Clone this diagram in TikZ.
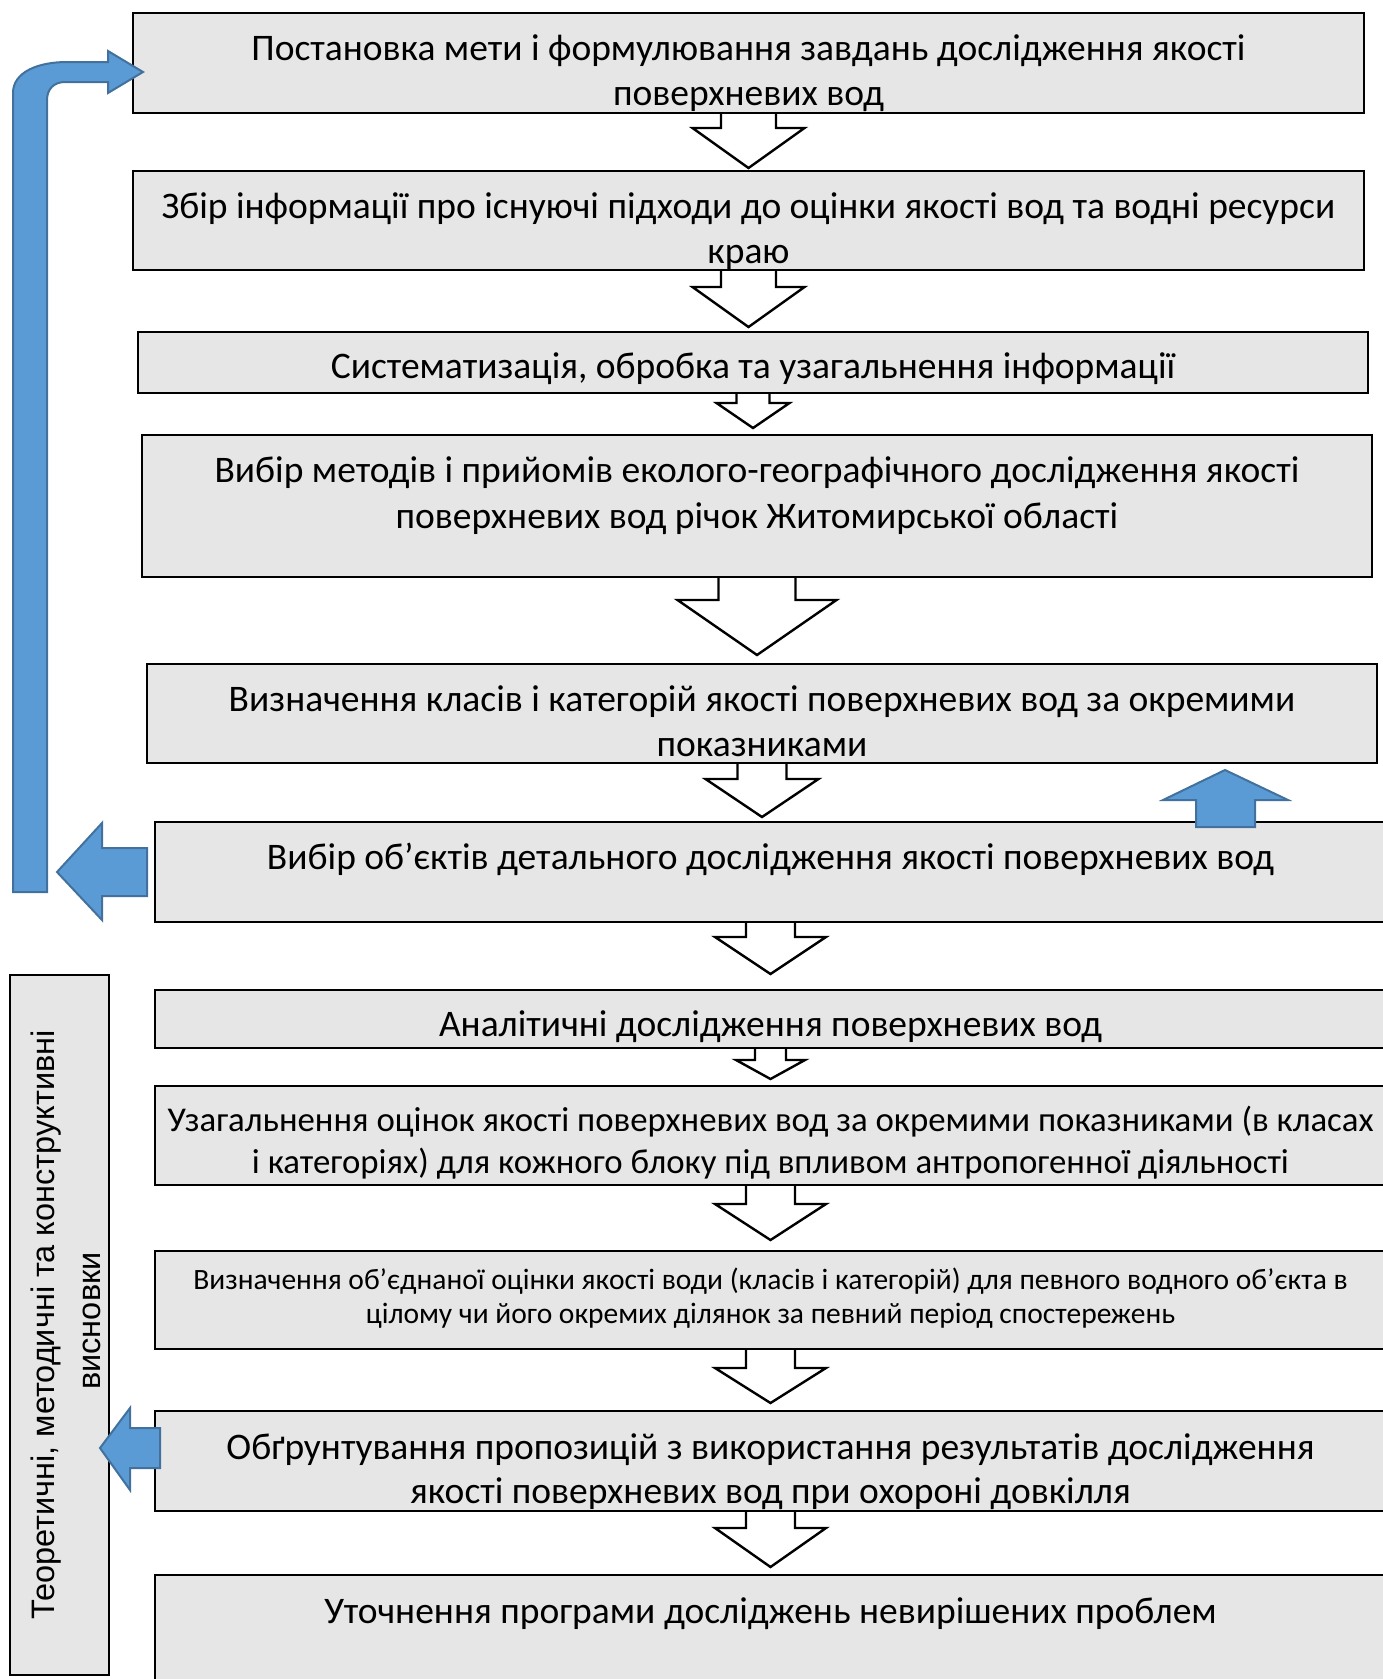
\documentclass[tikz,border=0pt]{standalone}
\usepackage{fontspec}
\setmainfont{Carlito}
\newfontfamily\arialf{Liberation Sans}
\usetikzlibrary{calc}
\pgfdeclarelayer{back}
\pgfsetlayers{back,main}
\definecolor{boxgray}{RGB}{230,230,230}
\definecolor{bluefill}{RGB}{91,155,213}
\definecolor{blueline}{RGB}{65,113,156}
\tikzset{
 stagebox/.style={draw=black, fill=boxgray, line width=2.8pt, inner sep=0pt, outer sep=0pt},
 stagetext/.style={anchor=base, inner sep=0pt, font=\fontsize{37.5}{42}\selectfont},
 midtext/.style={anchor=base, inner sep=0pt, font=\fontsize{34.8}{40}\selectfont},
 smalltext/.style={anchor=base, inner sep=0pt, font=\fontsize{29.5}{34}\selectfont},
 sidetext/.style={anchor=base, inner sep=0pt, rotate=90, font=\arialf\fontsize{32.5}{36}\selectfont},
 hollow/.style={draw=black, fill=white, line width=2.4pt, line join=miter},
 bluearrow/.style={draw=blueline, fill=bluefill, line width=2pt, line join=miter},
}
% #1 from-node, #2 stem half width, #3 head half width, #4 stem length, #5 tip depth
\newcommand{\hollowdown}[5]{%
  \begin{pgfonlayer}{back}
  \draw[hollow] let \p1=(#1.south) in
    (\x1-#2pt,\y1) -- (\x1-#2pt,\y1-#4pt) -- (\x1-#3pt,\y1-#4pt) -- (\x1,\y1-#5pt)
    -- (\x1+#3pt,\y1-#4pt) -- (\x1+#2pt,\y1-#4pt) -- (\x1+#2pt,\y1);
  \end{pgfonlayer}}
\begin{document}
\begin{tikzpicture}[x=1pt,y=-1pt]
\useasboundingbox (0,0) rectangle (1383,1679);
\clip (0,0) rectangle (1383,1679);

% boxes
\node[stagebox, minimum width=1231pt, minimum height=100pt] (b1) at (748.5,63) {};
\node[stagebox, minimum width=1231pt, minimum height=99pt] (b2) at (748.5,220.5) {};
\node[stagebox, minimum width=1230pt, minimum height=61pt] (b3) at (753,362.5) {};
\node[stagebox, minimum width=1230pt, minimum height=142pt] (b4) at (757,506) {};
\node[stagebox, minimum width=1230pt, minimum height=99pt] (b5) at (762,713.5) {};
\node[stagebox, minimum width=1231pt, minimum height=100pt] (b6) at (770.5,872) {};
\node[stagebox, minimum width=1231pt, minimum height=58pt] (b7) at (770.5,1019) {};
\node[stagebox, minimum width=1231pt, minimum height=99pt] (b8) at (770.5,1135.5) {};
\node[stagebox, minimum width=1231pt, minimum height=98pt] (b9) at (770.5,1300) {};
\node[stagebox, minimum width=1231pt, minimum height=100pt] (b10) at (770.5,1461) {};
\node[stagebox, minimum width=1231pt, minimum height=125pt] (b11) at (770.5,1637.5) {};
\node[stagebox, minimum width=99pt, minimum height=700pt] (side) at (59.5,1325) {};

% texts
\node[stagetext] (t1a) at (748.5,60) {Постановка мети і формулювання завдань дослідження якості};
\node[stagetext] (t1b) at (748.5,105) {поверхневих вод};
\node[stagetext] (t2a) at (748.5,218) {Збір інформації про існуючі підходи до оцінки якості вод та водні ресурси};
\node[stagetext] (t2b) at (748.5,263) {краю};
\node[stagetext] (t3) at (753,378) {Систематизація, обробка та узагальнення інформації};
\node[stagetext] (t4a) at (757,482) {Вибір методів і прийомів еколого-географічного дослідження якості};
\node[stagetext] (t4b) at (757,528) {поверхневих вод річок Житомирської області};
\node[stagetext] (t5a) at (762,711) {Визначення класів і категорій якості поверхневих вод за окремими};
\node[stagetext] (t5b) at (762,756) {показниками};
\node[stagetext] (t6) at (770.5,869) {Вибір об’єктів детального дослідження якості поверхневих вод};
\node[stagetext] (t7) at (770.5,1036) {Аналітичні дослідження поверхневих вод};
\node[midtext] (t8a) at (770.5,1131) {Узагальнення оцінок якості поверхневих вод за окремими показниками (в класах};
\node[midtext] (t8b) at (770.5,1173) {і категоріях) для кожного блоку під впливом антропогенної діяльності};
\node[smalltext] (t9a) at (770.5,1289) {Визначення об’єднаної оцінки якості води (класів і категорій) для певного водного об’єкта в};
\node[smalltext] (t9b) at (770.5,1323) {цілому чи його окремих ділянок за певний період спостережень};
\node[stagetext] (t10a) at (770.5,1459) {Обґрунтування пропозицій з використання результатів дослідження};
\node[stagetext] (t10b) at (770.5,1503) {якості поверхневих вод при охороні довкілля};
\node[stagetext] (t11) at (770.5,1623) {Уточнення програми досліджень невирішених проблем};
\node[sidetext] (s1) at (54,1325) {Теоретичні, методичні та конструктивні};
\node[sidetext] (s2) at (100,1321) {висновки};

% hollow down arrows
\hollowdown{b1}{27.5}{56}{15}{55}
\hollowdown{b2}{27.5}{56}{17}{57}
\hollowdown{b3}{16.5}{36.5}{10}{35}
\hollowdown{b4}{38.5}{79.5}{23}{78}
\hollowdown{b5}{24.5}{56.5}{16}{54}
\hollowdown{b6}{24.5}{55.5}{15}{52}
\hollowdown{b7}{15.5}{34.5}{12}{31}
\hollowdown{b8}{24.5}{55.5}{19}{55}
\hollowdown{b9}{24.5}{55.5}{19}{54}
\hollowdown{b10}{24.5}{55.5}{17}{56}

% blue arrows
\draw[bluearrow] (13,892) -- (13,93) .. controls (13,72) and (38,62) .. (67,62) -- (108,62) -- (108,51)
  -- (143,72) -- (108,93) -- (108,82) -- (65,82) .. controls (54,82) and (47,89) .. (47,100) -- (47,892) -- cycle;
\draw[bluearrow] (147,848) -- (102,848) -- (102,823) -- (57,872) -- (102,920) -- (102,896) -- (147,896) -- cycle;
\draw[bluearrow] (1196,827) -- (1196,800) -- (1163,800) -- (1225,770) -- (1288,800) -- (1255,800) -- (1255,827) -- cycle;
\draw[bluearrow] (160,1428) -- (130,1428) -- (130,1408) -- (100,1448) -- (130,1490) -- (130,1468) -- (160,1468) -- cycle;
\end{tikzpicture}
\end{document}
